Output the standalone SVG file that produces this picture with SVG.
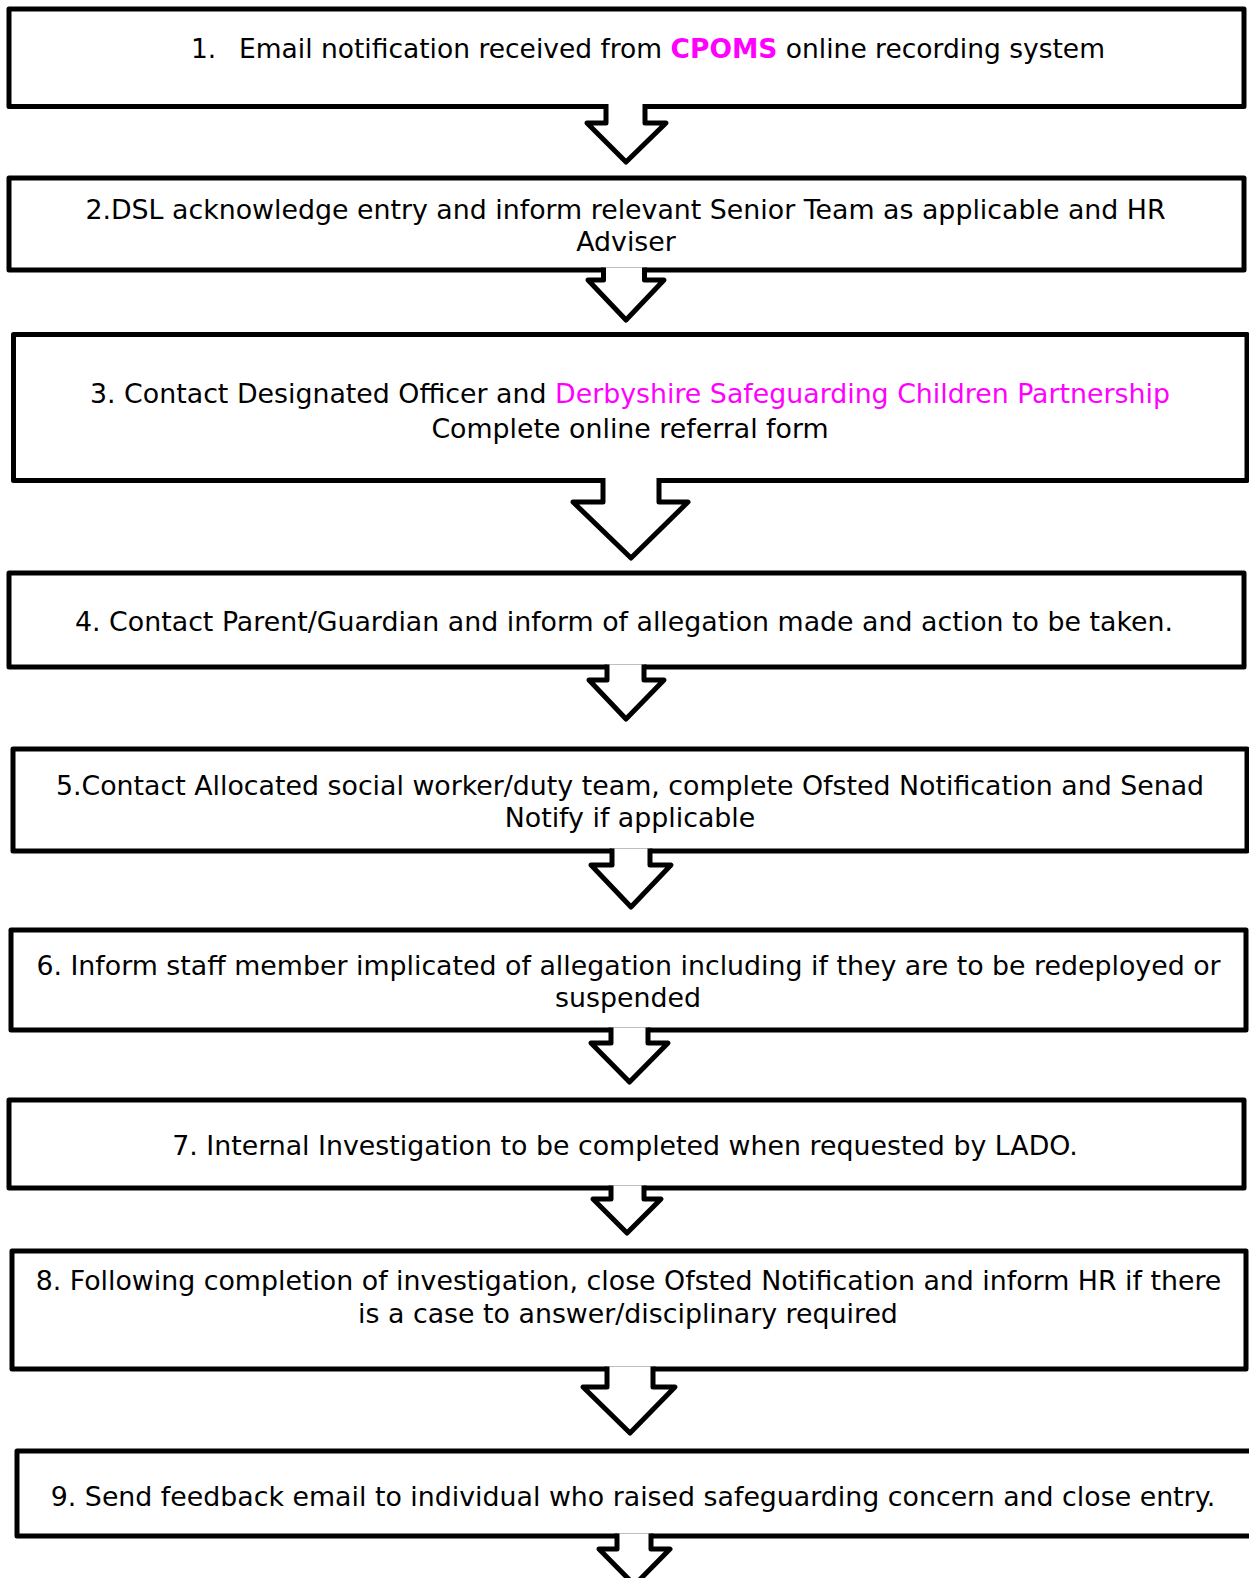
<svg xmlns="http://www.w3.org/2000/svg" width="1249" height="1578" viewBox="0 0 1249 1578">
<style>
.box{fill:#fff;stroke:#000;stroke-width:5;stroke-linejoin:round}
.arr{fill:#fff;stroke:#000;stroke-width:5;stroke-linejoin:round;stroke-linecap:butt}
text{font-family:"DejaVu Sans","Verdana",sans-serif;font-size:26.8px;fill:#000}
.c{text-anchor:middle}
.m{fill:#ff00ff}
.b{font-weight:bold}
.t1{font-size:26.5px}
</style>
<rect width="1249" height="1578" fill="#fff"/>
<g id="n1"><rect class="box" x="9" y="9" width="1235" height="97.5"/>
<text class="t1" x="191" y="57.5">1.</text><text class="t1" x="239" y="57.5">Email notification received from <tspan class="m b">CPOMS</tspan> online recording system</text></g>
<g id="n2"><rect class="box" x="9" y="178" width="1235" height="92"/>
<text class="c" x="625.5" y="218.5">2.DSL acknowledge entry and inform relevant Senior Team as applicable and HR</text>
<text class="c" x="626" y="250.5">Adviser</text></g>
<g id="n3"><rect class="box" x="13.5" y="334.5" width="1233.5" height="146"/>
<text class="c" x="630" y="402.5">3. Contact Designated Officer and <tspan class="m">Derbyshire Safeguarding Children Partnership</tspan></text>
<text class="c" x="630" y="437.5">Complete online referral form</text></g>
<g id="n4"><rect class="box" x="9" y="573" width="1235" height="94"/>
<text class="c" x="624" y="631">4. Contact Parent/Guardian and inform of allegation made and action to be taken.</text></g>
<g id="n5"><rect class="box" x="13" y="749" width="1234" height="102"/>
<text class="c" x="630" y="795">5.Contact Allocated social worker/duty team, complete Ofsted Notification and Senad</text>
<text class="c" x="630" y="827">Notify if applicable</text></g>
<g id="n6"><rect class="box" x="11" y="930" width="1235" height="100"/>
<text class="c" x="628.5" y="975">6. Inform staff member implicated of allegation including if they are to be redeployed or</text>
<text class="c" x="628" y="1006.5">suspended</text></g>
<g id="n7"><rect class="box" x="9" y="1100" width="1235" height="88"/>
<text class="c" x="625" y="1154.5">7. Internal Investigation to be completed when requested by LADO.</text></g>
<g id="n8"><rect class="box" x="12" y="1251" width="1234" height="118"/>
<text class="c" x="628.5" y="1290">8. Following completion of investigation, close Ofsted Notification and inform HR if there</text>
<text class="c" x="628" y="1322.5">is a case to answer/disciplinary required</text></g>
<g id="n9"><rect class="box" x="17" y="1451" width="1236" height="85"/>
<text class="c" x="633" y="1505.5">9. Send feedback email to individual who raised safeguarding concern and close entry.</text></g>
<g id="connectors">
<path class="arr" d="M606,104 V123 H587 L626,162 L666,123 H645 V104"/>
<path class="arr" d="M603.5,267.5 V280 H588 L626,320 L664,280 H644.5 V267.5"/>
<path class="arr" d="M603,478 V502 H573 L631,558 L688,502 H659 V478"/>
<path class="arr" d="M607,664.5 V680 H589 L626,719 L664,680 H644 V664.5"/>
<path class="arr" d="M612,848.5 V865 H591 L631,907 L671,865 H650 V848.5"/>
<path class="arr" d="M611,1027.5 V1043 H591 L629.5,1082 L668,1043 H648 V1027.5"/>
<path class="arr" d="M611,1185.5 V1199 H593 L627,1233 L661,1199 H644 V1185.5"/>
<path class="arr" d="M607,1366.5 V1387 H583 L630,1433 L675,1387 H653 V1366.5"/>
<path class="arr" d="M617,1533.5 V1549 H599 L634.5,1585 L670,1549 H651 V1533.5"/>
</g>
</svg>
